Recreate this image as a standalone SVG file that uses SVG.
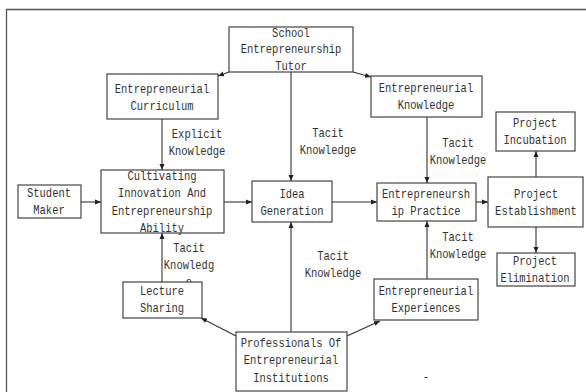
<svg xmlns="http://www.w3.org/2000/svg" width="586" height="392" viewBox="0 0 586 392">
  <defs>
    <marker id="arrow" markerWidth="6" markerHeight="6" refX="6" refY="3" orient="auto" markerUnits="userSpaceOnUse">
      <path d="M0,0.5 L6,3 L0,5.5 z" fill="#222"/>
    </marker>
    <style>
      .box { fill: #fff; stroke: #444; stroke-width: 1.2; }
      .t { font-family: "Liberation Mono", "DejaVu Sans Mono", monospace; font-size: 12.5px; fill: #333; text-anchor: middle; }
      .edge { fill: none; stroke: #333; stroke-width: 1.1; marker-end: url(#arrow); }
      .frame { fill: none; stroke: #555; stroke-width: 1.3; }
    </style>
  </defs>

  <rect width="586" height="392" fill="#fff"/>

  <!-- page frame -->
  <path class="frame" d="M6.5,392 V9.5 H586"/>

  <!-- connectors -->
  <g id="connectors">
    <line class="edge" x1="229" y1="72" x2="218" y2="76"/>
    <line class="edge" x1="353" y1="72" x2="371" y2="77"/>
    <line class="edge" x1="291" y1="72" x2="291" y2="181"/>
    <line class="edge" x1="162" y1="119" x2="162" y2="170"/>
    <line class="edge" x1="427" y1="117" x2="427" y2="183"/>
    <line class="edge" x1="81" y1="202" x2="101" y2="202"/>
    <line class="edge" x1="224" y1="202" x2="252" y2="202"/>
    <line class="edge" x1="332" y1="202" x2="377" y2="202"/>
    <line class="edge" x1="476" y1="202" x2="488" y2="202"/>
    <line class="edge" x1="536" y1="177" x2="536" y2="151"/>
    <line class="edge" x1="536" y1="227" x2="536" y2="253"/>
    <line class="edge" x1="162" y1="282" x2="162" y2="233"/>
    <line class="edge" x1="236" y1="336" x2="201" y2="318"/>
    <line class="edge" x1="291" y1="332" x2="291" y2="222"/>
    <line class="edge" x1="347" y1="336" x2="380" y2="321"/>
    <line class="edge" x1="427" y1="279" x2="427" y2="221"/>
  </g>

  <!-- edge labels -->
  <g id="labels">
    <text class="t" transform="translate(197,138) scale(0.84,1)"><tspan x="0">Explicit</tspan><tspan x="0" dy="17.5">Knowledge</tspan></text>
    <text class="t" transform="translate(328,137) scale(0.84,1)"><tspan x="0">Tacit</tspan><tspan x="0" dy="17">Knowledge</tspan></text>
    <text class="t" transform="translate(458,147) scale(0.84,1)"><tspan x="0">Tacit</tspan><tspan x="0" dy="17">Knowledge</tspan></text>
    <text class="t" transform="translate(189,252) scale(0.84,1)"><tspan x="0">Tacit</tspan><tspan x="0" dy="17">Knowledg</tspan><tspan x="0" dy="17">e</tspan></text>
    <text class="t" transform="translate(333,260) scale(0.84,1)"><tspan x="0">Tacit</tspan><tspan x="0" dy="17">Knowledge</tspan></text>
    <text class="t" transform="translate(458,241) scale(0.84,1)"><tspan x="0">Tacit</tspan><tspan x="0" dy="17">Knowledge</tspan></text>
    <text class="t" transform="translate(426,381) scale(0.84,1)">-</text>
  </g>

  <!-- nodes -->
  <g id="school-tutor">
    <rect class="box" x="229" y="27" width="124" height="45"/>
    <text class="t" transform="translate(291,37) scale(0.84,1)"><tspan x="0">School</tspan><tspan x="0" dy="16.5">Entrepreneurship</tspan><tspan x="0" dy="16.5">Tutor</tspan></text>
  </g>
  <g id="curriculum">
    <rect class="box" x="107" y="74" width="111" height="45"/>
    <text class="t" transform="translate(162,93) scale(0.84,1)"><tspan x="0">Entrepreneurial</tspan><tspan x="0" dy="17">Curriculum</tspan></text>
  </g>
  <g id="knowledge">
    <rect class="box" x="371" y="76" width="111" height="41"/>
    <text class="t" transform="translate(426,92) scale(0.84,1)"><tspan x="0">Entrepreneurial</tspan><tspan x="0" dy="17">Knowledge</tspan></text>
  </g>
  <g id="incubation">
    <rect class="box" x="496" y="112" width="79" height="39"/>
    <text class="t" transform="translate(535,127) scale(0.84,1)"><tspan x="0">Project</tspan><tspan x="0" dy="17">Incubation</tspan></text>
  </g>
  <g id="student-maker">
    <rect class="box" x="18" y="185" width="63" height="33"/>
    <text class="t" transform="translate(49,197) scale(0.84,1)"><tspan x="0">Student</tspan><tspan x="0" dy="17">Maker</tspan></text>
  </g>
  <g id="cultivating">
    <rect class="box" x="101" y="170" width="123" height="63"/>
    <text class="t" transform="translate(162,180) scale(0.84,1)"><tspan x="0">Cultivating</tspan><tspan x="0" dy="17.3">Innovation And</tspan><tspan x="0" dy="17.3">Entrepreneurship</tspan><tspan x="0" dy="17.3">Ability</tspan></text>
  </g>
  <g id="idea">
    <rect class="box" x="252" y="181" width="80" height="41"/>
    <text class="t" transform="translate(292,198) scale(0.84,1)"><tspan x="0">Idea</tspan><tspan x="0" dy="17">Generation</tspan></text>
  </g>
  <g id="practice">
    <rect class="box" x="377" y="183" width="99" height="38"/>
    <text class="t" transform="translate(426,198) scale(0.84,1)"><tspan x="0">Entrepreneursh</tspan><tspan x="0" dy="17">ip Practice</tspan></text>
  </g>
  <g id="establishment">
    <rect class="box" x="488" y="177" width="95" height="50"/>
    <text class="t" transform="translate(536,198) scale(0.84,1)"><tspan x="0">Project</tspan><tspan x="0" dy="17">Establishment</tspan></text>
  </g>
  <g id="elimination">
    <rect class="box" x="497" y="253" width="78" height="33"/>
    <text class="t" transform="translate(535,265) scale(0.84,1)"><tspan x="0">Project</tspan><tspan x="0" dy="17">Elimination</tspan></text>
  </g>
  <g id="experiences">
    <rect class="box" x="374" y="279" width="104" height="41"/>
    <text class="t" transform="translate(426,295) scale(0.84,1)"><tspan x="0">Entrepreneurial</tspan><tspan x="0" dy="17">Experiences</tspan></text>
  </g>
  <g id="lecture">
    <rect class="box" x="123" y="282" width="79" height="36"/>
    <text class="t" transform="translate(162,295) scale(0.84,1)"><tspan x="0">Lecture</tspan><tspan x="0" dy="17">Sharing</tspan></text>
  </g>
  <g id="professionals">
    <rect class="box" x="236" y="332" width="111" height="59"/>
    <text class="t" transform="translate(291,347) scale(0.84,1)"><tspan x="0">Professionals Of</tspan><tspan x="0" dy="17.5">Entrepreneurial</tspan><tspan x="0" dy="17.5">Institutions</tspan></text>
  </g>
</svg>
